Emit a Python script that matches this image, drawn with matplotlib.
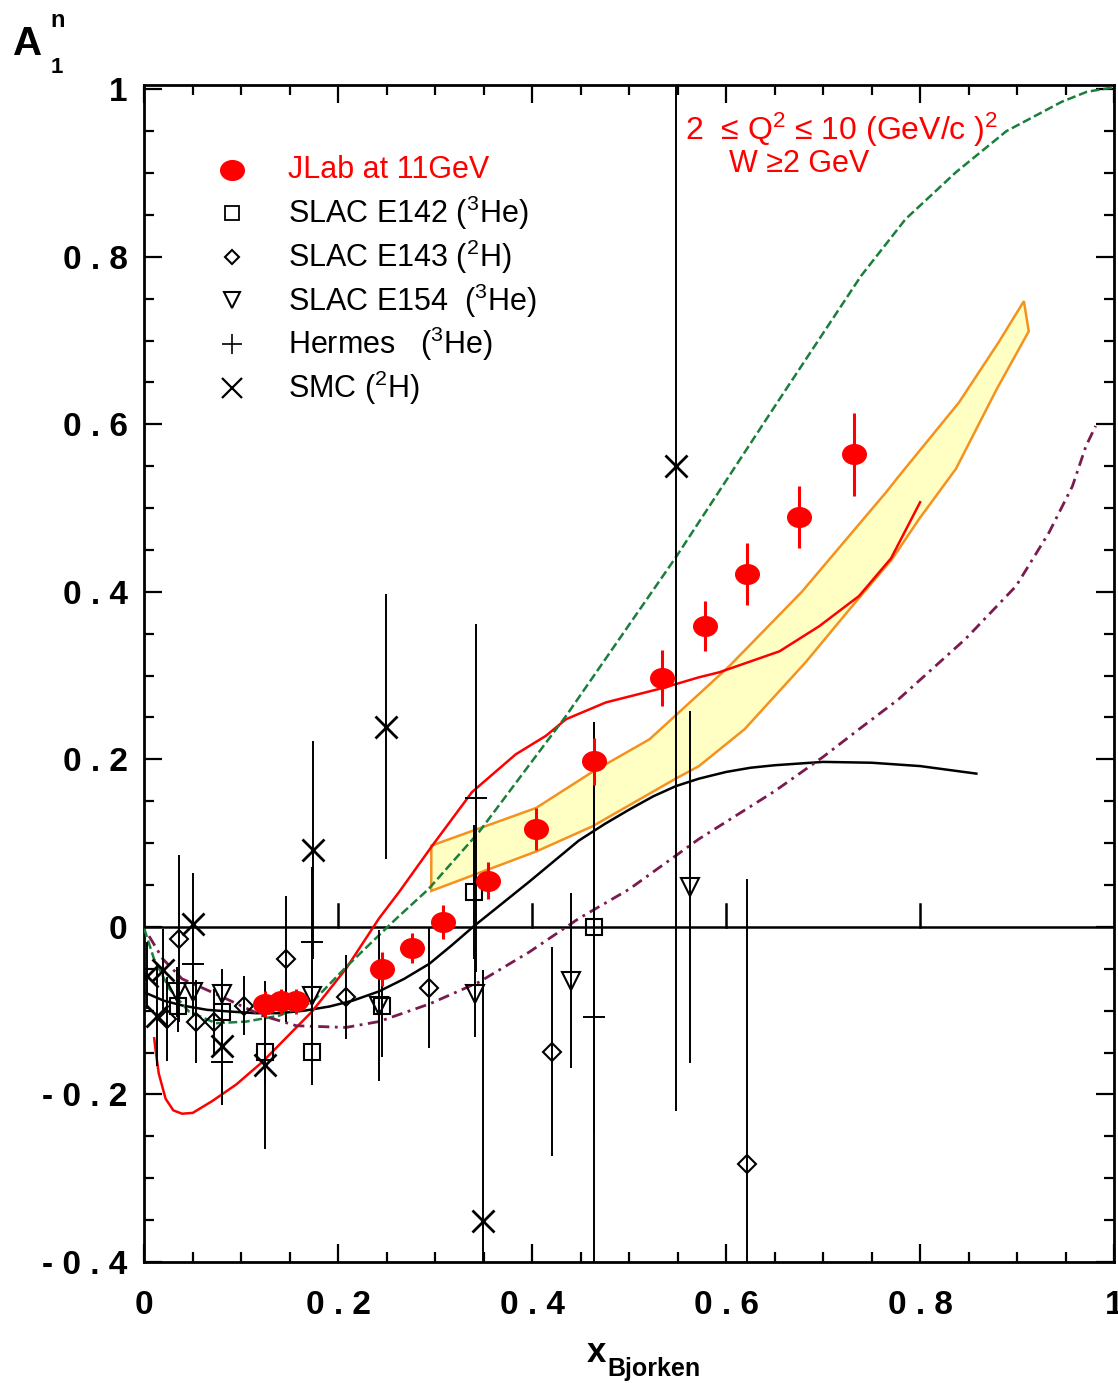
import numpy as np
import matplotlib
matplotlib.use("Agg")
import matplotlib.pyplot as plt
from matplotlib.path import Path
from matplotlib.transforms import Affine2D
from matplotlib.ticker import MultipleLocator

plt.rcParams['font.family'] = ['Liberation Sans', 'DejaVu Sans']
plt.rcParams['mathtext.fontset'] = 'custom'
plt.rcParams['mathtext.rm'] = 'Liberation Sans'
plt.rcParams['mathtext.it'] = 'Liberation Sans:italic'
plt.rcParams['mathtext.bf'] = 'Liberation Sans:bold'

# ---------------- data ----------------
# JLab 11 GeV projection
jlab_x = [0.125, 0.141, 0.157, 0.245, 0.276, 0.308, 0.354, 0.404, 0.464, 0.534, 0.578, 0.621, 0.675, 0.732]
jlab_y = [-0.092, -0.089, -0.089, -0.050, -0.025, 0.006, 0.055, 0.117, 0.198, 0.297, 0.359, 0.421, 0.489, 0.564]
jlab_e = [0.015, 0.015, 0.015, 0.020, 0.018, 0.020, 0.022, 0.025, 0.028, 0.033, 0.030, 0.037, 0.037, 0.049]

# SLAC E142 (3He)
e142_x = [0.035, 0.080, 0.125, 0.173, 0.245, 0.340, 0.464]
e142_y = [-0.095, -0.101, -0.149, -0.149, -0.095, 0.042, 0.000]
e142_e = [0.030, 0.030, 0.040, 0.040, 0.060, 0.080, 0.245]

# SLAC E143 (2H)
e143_x = [0.024, 0.036, 0.053, 0.072, 0.103, 0.146, 0.208, 0.294, 0.420, 0.621]
e143_y = [-0.110, -0.014, -0.113, -0.114, -0.094, -0.038, -0.084, -0.073, -0.149, -0.283]
e143_e = [0.050, 0.100, 0.050, 0.040, 0.035, 0.075, 0.050, 0.072, 0.125, 0.340]

# SLAC E154 (3He)
e154_x = [0.034, 0.050, 0.080, 0.173, 0.242, 0.341, 0.440, 0.563]
e154_y = [-0.078, -0.078, -0.080, -0.082, -0.094, -0.080, -0.064, 0.048]
e154_e = [0.030, 0.030, 0.030, 0.040, 0.090, 0.052, 0.105, 0.210]

# Hermes (3He)
herm_x = [0.050, 0.080, 0.173, 0.342, 0.464]
herm_y = [-0.044, -0.161, -0.018, 0.154, -0.107]
herm_e = [0.060, 0.050, 0.090, 0.208, 0.350]

# SMC (2H)
smc_x = [0.003, 0.013, 0.019, 0.050, 0.080, 0.125, 0.174, 0.249, 0.349, 0.548]
smc_y = [-0.058, -0.106, -0.052, 0.004, -0.142, -0.165, 0.092, 0.239, -0.351, 0.550]
smc_e = [0.040, 0.060, 0.050, 0.060, 0.070, 0.100, 0.130, 0.158, 0.300, 0.770]

# model curves
black_x = [0.0, 0.02, 0.04, 0.065, 0.088, 0.115, 0.139, 0.165, 0.191, 0.215, 0.242, 0.268, 0.294, 0.317,
           0.340, 0.368, 0.397, 0.423, 0.448, 0.475, 0.500, 0.525, 0.548, 0.572, 0.600, 0.625, 0.650,
           0.700, 0.750, 0.800, 0.858]
black_y = [-0.078, -0.088, -0.094, -0.099, -0.101, -0.103, -0.103, -0.100, -0.095, -0.088, -0.077, -0.062,
           -0.044, -0.022, 0.001, 0.027, 0.054, 0.079, 0.103, 0.123, 0.140, 0.156, 0.168, 0.177, 0.185,
           0.190, 0.193, 0.197, 0.196, 0.192, 0.183]

red_x = [0.0103, 0.012, 0.015, 0.022, 0.030, 0.039, 0.050, 0.070, 0.095, 0.122, 0.173, 0.208, 0.242, 0.263,
         0.297, 0.338, 0.383, 0.414, 0.435, 0.476, 0.534, 0.572, 0.593, 0.655, 0.696, 0.737, 0.770, 0.800]
red_y = [-0.133, -0.150, -0.175, -0.205, -0.219, -0.223, -0.222, -0.208, -0.188, -0.161, -0.101, -0.050,
         0.010, 0.042, 0.097, 0.161, 0.206, 0.228, 0.248, 0.268, 0.285, 0.298, 0.304, 0.329, 0.359, 0.395,
         0.440, 0.507]

green_x = [0.0, 0.010, 0.026, 0.046, 0.074, 0.105, 0.139, 0.173, 0.208, 0.242, 0.260, 0.293, 0.345, 0.435,
           0.548, 0.655, 0.739, 0.785, 0.837, 0.889, 0.946, 0.972, 0.998]
green_y = [-0.002, -0.038, -0.074, -0.101, -0.115, -0.113, -0.106, -0.090, -0.048, -0.010, 0.010, 0.045,
           0.113, 0.252, 0.441, 0.630, 0.777, 0.845, 0.901, 0.950, 0.985, 0.997, 1.002]

purple_x = [0.005, 0.019, 0.039, 0.070, 0.122, 0.157, 0.208, 0.242, 0.294, 0.345, 0.397, 0.448, 0.500, 0.572,
            0.650, 0.700, 0.737, 0.778, 0.847, 0.899, 0.933, 0.957, 0.971, 0.981]
purple_y = [-0.011, -0.038, -0.062, -0.078, -0.106, -0.118, -0.120, -0.113, -0.092, -0.066, -0.030, 0.010,
            0.045, 0.105, 0.162, 0.203, 0.236, 0.272, 0.344, 0.407, 0.471, 0.526, 0.574, 0.598]

band_up_x = [0.296, 0.404, 0.462, 0.521, 0.572, 0.603, 0.678, 0.765, 0.778, 0.840, 0.881, 0.907]
band_up_y = [0.097, 0.142, 0.185, 0.224, 0.278, 0.311, 0.400, 0.519, 0.538, 0.626, 0.698, 0.747]
band_lo_x = [0.296, 0.404, 0.462, 0.548, 0.572, 0.619, 0.682, 0.730, 0.771, 0.799, 0.837, 0.879, 0.912]
band_lo_y = [0.043, 0.090, 0.120, 0.177, 0.192, 0.236, 0.316, 0.383, 0.439, 0.487, 0.547, 0.642, 0.711]

legend_labels = ["JLab at 11GeV", r"SLAC E142 ($^{3}$He)", r"SLAC E143 ($^{2}$H)",
                 r"SLAC E154  ($^{3}$He)", r"Hermes   ($^{3}$He)", r"SMC ($^{2}$H)"]

xtick_vals = [0, 0.2, 0.4, 0.6, 0.8, 1.0]
xtick_text = ["0", "0 . 2", "0 . 4", "0 . 6", "0 . 8", "1"]
ytick_vals = [-0.4, -0.2, 0, 0.2, 0.4, 0.6, 0.8, 1.0]
ytick_text = ["- 0 . 4", "- 0 . 2", "0", "0 . 2", "0 . 4", "0 . 6", "0 . 8", "1"]

# ---------------- figure ----------------
fig = plt.figure(figsize=(11.18, 13.83), dpi=100)
ax = fig.add_axes([0.129, 0.0875, 0.8675, 0.851])
ax.set_xlim(0, 1)
ax.set_ylim(-0.4, 1.005)

RED = '#ff0000'
ORANGE = '#f5921e'
GREEN = '#1a7f3c'
PURPLE = '#7a1a4e'

# uncertainty band
poly_x = list(band_up_x) + list(band_lo_x[::-1])
poly_y = list(band_up_y) + list(band_lo_y[::-1])
ax.fill(poly_x, poly_y, facecolor='#ffffc4', edgecolor=ORANGE, linewidth=1.8, zorder=1)

# zero line with small ticks
ax.axhline(0, color='black', lw=1.8, zorder=2)
for xv in [0.2, 0.4, 0.6, 0.8]:
    ax.plot([xv, xv], [0, 0.027], color='black', lw=1.8, zorder=2)

# curves
ax.plot(black_x, black_y, color='black', lw=1.8, zorder=3)
ax.plot(red_x, red_y, color=RED, lw=1.8, zorder=3)
ax.plot(green_x, green_y, color=GREEN, lw=1.8, dashes=(3.5, 1.5), zorder=3)
ax.plot(purple_x, purple_y, color=PURPLE, lw=2.0, dashes=(4, 2, 1, 2), zorder=3)

# ellipse marker for JLab points
ell = Path.unit_circle().transformed(Affine2D().scale(1.2, 1.0))

ebkw = dict(ecolor='black', elinewidth=1.4, capsize=0, linestyle='none', zorder=4)
ax.errorbar(e142_x, e142_y, yerr=e142_e, marker='s', ms=11, mfc='none', mec='black', mew=1.5, **ebkw)
ax.errorbar(e143_x, e143_y, yerr=e143_e, marker='D', ms=9, mfc='none', mec='black', mew=1.5, **ebkw)
ax.errorbar(e154_x, e154_y, yerr=e154_e, marker='v', ms=13, mfc='none', mec='black', mew=1.5, **ebkw)
ax.errorbar(herm_x, herm_y, yerr=herm_e, marker='+', ms=16, mec='black', mew=1.4, **ebkw)
ax.errorbar(smc_x, smc_y, yerr=smc_e, marker='x', ms=16, mec='black', mew=2.0, **ebkw)
ax.errorbar(jlab_x, jlab_y, yerr=jlab_e, marker=ell, ms=17, mfc=RED, mec=RED,
            ecolor=RED, elinewidth=2.2, capsize=0, linestyle='none', zorder=5)

# legend drawn as marker + text rows
leg_y = [0.928, 0.891, 0.854, 0.817, 0.780, 0.743]
leg_m = [dict(marker=ell, ms=17, mfc=RED, mec=RED),
         dict(marker='s', ms=10, mfc='none', mec='black', mew=1.3),
         dict(marker='D', ms=7.5, mfc='none', mec='black', mew=1.5),
         dict(marker='v', ms=11, mfc='none', mec='black', mew=1.5),
         dict(marker='+', ms=15, mec='black', mew=1.2),
         dict(marker='x', ms=14, mec='black', mew=1.6)]
for i, (yy, mk, lab) in enumerate(zip(leg_y, leg_m, legend_labels)):
    ax.plot([0.0907], [yy], transform=ax.transAxes, linestyle='none', clip_on=False, **mk)
    ax.text(0.1485, yy, lab, transform=ax.transAxes, fontsize=22,
            color=(RED if i == 0 else 'black'), va='center', ha='left')

ax.text(0.558, 0.962, r"2  ≤ Q$^{2}$ ≤ 10 (GeV/c )$^{2}$", transform=ax.transAxes,
        fontsize=23, color=RED, va='center', ha='left')
ax.text(0.603, 0.933, "W ≥2 GeV", transform=ax.transAxes,
        fontsize=22, color=RED, va='center', ha='left')

# axes styling
for s in ax.spines.values():
    s.set_linewidth(2.0)
ax.set_xticks(xtick_vals)
ax.set_xticklabels(xtick_text)
ax.set_yticks(ytick_vals)
ax.set_yticklabels(ytick_text)
ax.xaxis.set_minor_locator(MultipleLocator(0.05))
ax.yaxis.set_minor_locator(MultipleLocator(0.05))
ax.tick_params(which='both', direction='in', top=True, right=True, width=1.6)
ax.tick_params(which='major', length=13)
ax.tick_params(which='minor', length=7)
ax.tick_params(axis='x', which='major', pad=20, labelsize=24)
ax.tick_params(axis='y', which='major', pad=12, labelsize=24)
for lab in ax.get_xticklabels() + ax.get_yticklabels():
    lab.set_fontweight('bold')

# axis titles
fig.text(0.012, 0.968, "A", fontsize=29, fontweight='bold', va='center', ha='left')
fig.text(0.045, 0.985, "n", fontsize=17, fontweight='bold', va='center', ha='left')
fig.text(0.045, 0.951, "1", fontsize=16, fontweight='bold', va='center', ha='left')
fig.text(0.525, 0.022, "x", fontsize=25, fontweight='bold', va='center', ha='left')
fig.text(0.543, 0.010, "Bjorken", fontsize=18, fontweight='bold', va='center', ha='left')

fig.savefig("out.png", dpi=100)
